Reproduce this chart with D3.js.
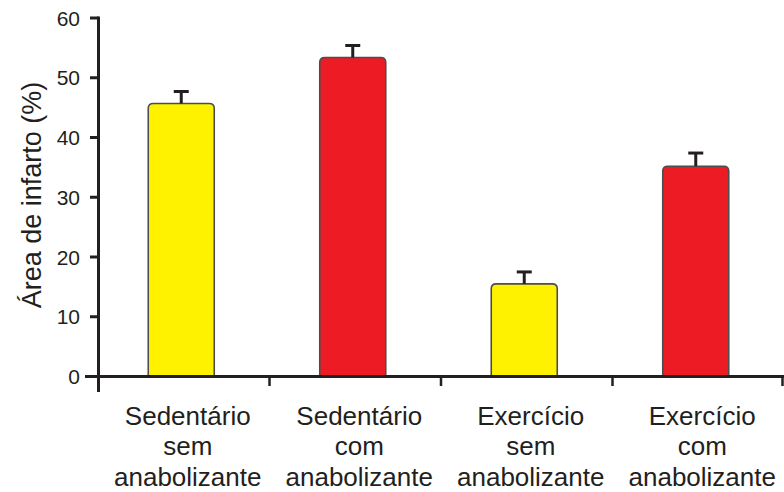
<!DOCTYPE html>
<html>
<head>
<meta charset="utf-8">
<script src="https://cdn.jsdelivr.net/npm/d3@7"></script>
<style>
  html, body { margin: 0; padding: 0; background: #fff; }
  svg { display: block; }
  text { font-family: "Liberation Sans", Arial, Helvetica, sans-serif; fill: #231f20; }
</style>
</head>
<body>
<svg id="chart" width="784" height="492"></svg>
<script>
const categories = ["Sedentário sem anabolizante", "Sedentário com anabolizante", "Exercício sem anabolizante", "Exercício com anabolizante"];
const values = [45.7, 53.4, 15.5, 35.2];
const errors = [2.0, 2.0, 2.0, 2.2];
const barColors = ["#fff200", "#ed1c24", "#fff200", "#ed1c24"];
const yTicks = [0, 10, 20, 30, 40, 50, 60];
const yTitle = "Área de infarto (%)";

const svg = d3.select("#chart");
const axisColor = "#231f20";

const y = d3.scaleLinear().domain([0, 60]).range([376.5, 18]);
const x = d3.scaleBand().domain(categories).range([98, 784]).paddingInner(0).paddingOuter(0);

const barW = 66, barShift = -2.5, labelShift = 4, r = 5;

// bars with rounded top corners
categories.forEach((c, i) => {
  const cx = x(c) + x.bandwidth() / 2 + barShift;
  const x0 = cx - barW / 2, x1 = cx + barW / 2;
  const yt = y(values[i]), yb = y(0);
  const p = d3.path();
  p.moveTo(x0, yb);
  p.lineTo(x0, yt + r);
  p.quadraticCurveTo(x0, yt, x0 + r, yt);
  p.lineTo(x1 - r, yt);
  p.quadraticCurveTo(x1, yt, x1, yt + r);
  p.lineTo(x1, yb);
  svg.append("path").attr("d", p.toString())
    .attr("fill", barColors[i]).attr("stroke", "#4d4d4f").attr("stroke-width", 1.6);
  // error bar
  const ye = y(values[i] + errors[i]);
  svg.append("line").attr("x1", cx).attr("x2", cx).attr("y1", yt).attr("y2", ye)
    .attr("stroke", axisColor).attr("stroke-width", 3);
  svg.append("line").attr("x1", cx - 7.5).attr("x2", cx + 7.5).attr("y1", ye).attr("y2", ye)
    .attr("stroke", axisColor).attr("stroke-width", 3);
});

// y axis
const yAxisX = 98.5;
svg.append("line").attr("x1", yAxisX).attr("x2", yAxisX).attr("y1", y(60) - 1.5).attr("y2", 392)
  .attr("stroke", axisColor).attr("stroke-width", 3);
yTicks.forEach(t => {
  svg.append("line").attr("x1", t === 0 ? 85 : 90).attr("x2", yAxisX).attr("y1", y(t)).attr("y2", y(t))
    .attr("stroke", axisColor).attr("stroke-width", 3);
  svg.append("text").attr("x", 80).attr("y", y(t)).attr("dy", "0.36em")
    .attr("text-anchor", "end").attr("font-size", 21).text(t);
});

// x axis
svg.append("line").attr("x1", 85).attr("x2", 784).attr("y1", y(0)).attr("y2", y(0))
  .attr("stroke", axisColor).attr("stroke-width", 3);
categories.forEach(c => {
  const xb = Math.min(x(c) + x.bandwidth(), 782.5);
  svg.append("line").attr("x1", xb).attr("x2", xb).attr("y1", y(0)).attr("y2", 386)
    .attr("stroke", axisColor).attr("stroke-width", 2.5);
});

// x labels
categories.forEach(c => {
  const cx = x(c) + x.bandwidth() / 2 + labelShift;
  const lines = c.split(" ");
  const t = svg.append("text").attr("text-anchor", "middle").attr("font-size", 26);
  lines.forEach((ln, j) => {
    t.append("tspan").attr("x", cx).attr("y", 424.5 + j * 30.8).text(ln);
  });
});

// y title
svg.append("text").attr("transform", "translate(41,195) rotate(-90)")
  .attr("text-anchor", "middle").attr("font-size", 27).text(yTitle);
</script>
</body>
</html>
